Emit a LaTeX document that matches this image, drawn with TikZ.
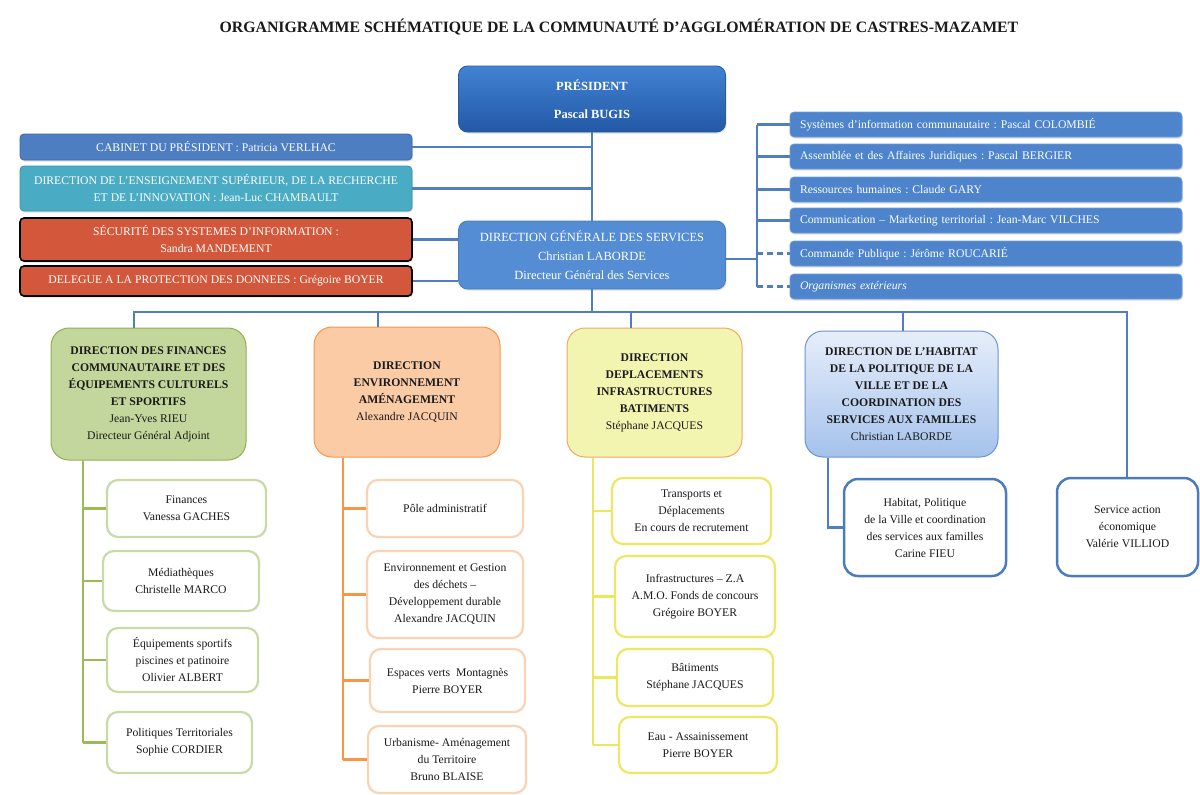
\documentclass[tikz,border=0pt]{standalone}
\usepackage{fontspec}
\setmainfont{Liberation Serif}
\usetikzlibrary{shadows}
\frenchspacing
\definecolor{presT}{HTML}{4282D2}
\definecolor{presB}{HTML}{2259A6}
\definecolor{presD}{HTML}{2A5C9E}
\definecolor{cabF}{HTML}{4D7EC1}
\definecolor{cabD}{HTML}{3E6AA6}
\definecolor{ensF}{HTML}{4AABC5}
\definecolor{ensD}{HTML}{3A95AE}
\definecolor{redF}{HTML}{D3573A}
\definecolor{dgsF}{HTML}{548DD4}
\definecolor{dgsD}{HTML}{4A7DBE}
\definecolor{rF}{HTML}{4D84CC}
\definecolor{rD}{HTML}{6F9CD8}
\definecolor{gF}{HTML}{C3D69B}
\definecolor{gD}{HTML}{8EB04F}
\definecolor{oF}{HTML}{FBCBA6}
\definecolor{oD}{HTML}{F7964A}
\definecolor{yF}{HTML}{F2F5B0}
\definecolor{yD}{HTML}{F2A85F}
\definecolor{hT}{HTML}{E6EEFA}
\definecolor{hB}{HTML}{A5C2EC}
\definecolor{hD}{HTML}{6A95D3}
\definecolor{gC}{HTML}{C8DBA6}
\definecolor{oC}{HTML}{FAD3B3}
\definecolor{yC}{HTML}{EEE766}
\definecolor{bC}{HTML}{4C7BBD}
\definecolor{gL}{HTML}{9BBB59}
\definecolor{oL}{HTML}{F79646}
\definecolor{yL}{HTML}{ECE65E}
\definecolor{bL}{HTML}{4F7FBE}
\definecolor{txt}{HTML}{1A1A1A}
\tikzset{
  sz/.style 2 args={minimum width=#1pt, minimum height=#2pt},
  base/.style={align=center, inner sep=0pt, text=txt, font=\fontsize{11.7}{17}\selectfont},
  topbox/.style={base, rounded corners=4pt, text=white, line width=0.8pt,
     drop shadow={opacity=0.25, shadow xshift=1pt, shadow yshift=-1.5pt}},
  redbox/.style={topbox, fill=redF, draw=black, line width=1.6pt},
  rbox/.style={topbox, fill=rF, draw=rD, align=left, inner xsep=10pt, text width=372pt, minimum height=25pt},
  lbox/.style={base, rounded corners=18pt, line width=1pt},
  cbox/.style={base, rounded corners=11pt, line width=2.2pt, fill=white},
  bline/.style={draw=bL, line width=2.5pt},
  gline/.style={draw=gL, line width=2.6pt},
  oline/.style={draw=oL, line width=2.6pt},
  yline/.style={draw=yL, line width=2.6pt},
}
\begin{document}
\begin{tikzpicture}[x=1pt,y=-1pt]
\useasboundingbox (0,0) rectangle (1200,795);
\fill[white] (0,0) rectangle (1200,795);

% title
\node[base, font=\bfseries\fontsize{15.8}{18}\selectfont] (title) at (619,27)
  {ORGANIGRAMME SCHÉMATIQUE DE LA COMMUNAUTÉ D’AGGLOMÉRATION DE CASTRES-MAZAMET};

% president and DGS
\node[topbox, sz={267}{66}, rounded corners=9pt, top color=presT, bottom color=presB, draw=presD,
      font=\bfseries\fontsize{12.5}{17}\selectfont] (pres) at (592,99)
  {PRÉSIDENT\\[11pt]Pascal BUGIS};
\node[topbox, sz={267}{68}, rounded corners=9pt, fill=dgsF, draw=dgsD,
      font=\fontsize{12.5}{19}\selectfont] (dgs) at (592,255)
  {DIRECTION GÉNÉRALE DES SERVICES\\Christian LABORDE\\Directeur Général des Services};

% left boxes
\node[topbox, sz={392}{26}, fill=cabF, draw=cabD] (cab) at (216,147)
  {CABINET DU PRÉSIDENT : Patricia VERLHAC};
\node[topbox, sz={392}{45}, fill=ensF, draw=ensD] (ens) at (216,188.5)
  {DIRECTION DE L’ENSEIGNEMENT SUPÉRIEUR, DE LA RECHERCHE\\ET DE L’INNOVATION : Jean-Luc CHAMBAULT};
\node[redbox, sz={392}{43}] (secu) at (216,239.5)
  {SÉCURITÉ DES SYSTEMES D’INFORMATION :\\Sandra MANDEMENT};
\node[redbox, sz={392}{30}] (dpo) at (216,281)
  {DELEGUE A LA PROTECTION DES DONNEES : Grégoire BOYER};

% right boxes
\node[rbox] (r1) at (986,124.5) {Systèmes d’information communautaire : Pascal COLOMBIÉ};
\node[rbox] (r2) at (986,156.5) {Assemblée et des Affaires Juridiques : Pascal BERGIER};
\node[rbox] (r3) at (986,189.5) {Ressources humaines : Claude GARY};
\node[rbox] (r4) at (986,220.5) {Communication – Marketing territorial : Jean-Marc VILCHES};
\node[rbox] (r5) at (986,253.5) {Commande Publique : Jérôme ROUCARIÉ};
\node[rbox] (r6) at (986,286.5) {\textit{Organismes extérieurs}};

% level 2 boxes
\node[lbox, sz={195}{132}, fill=gF, draw=gD] (fin) at (148.5,394)
  {\textbf{DIRECTION DES FINANCES}\\\textbf{COMMUNAUTAIRE ET DES}\\\textbf{ÉQUIPEMENTS CULTURELS}\\\textbf{ET SPORTIFS}\\Jean-Yves RIEU\\Directeur Général Adjoint};
\node[lbox, sz={186}{130}, fill=oF, draw=oD] (env) at (407,392)
  {\textbf{DIRECTION}\\\textbf{ENVIRONNEMENT}\\\textbf{AMÉNAGEMENT}\\Alexandre JACQUIN};
\node[lbox, sz={175}{129}, fill=yF, draw=yD] (dep) at (654.5,392.5)
  {\textbf{DIRECTION}\\\textbf{DEPLACEMENTS}\\\textbf{INFRASTRUCTURES}\\\textbf{BATIMENTS}\\Stéphane JACQUES};
\node[lbox, sz={193}{126}, top color=hT, bottom color=hB, draw=hD] (hab) at (901.5,394)
  {\textbf{DIRECTION DE L’HABITAT}\\\textbf{DE LA POLITIQUE DE LA}\\\textbf{VILLE ET DE LA}\\\textbf{COORDINATION DES}\\\textbf{SERVICES AUX FAMILLES}\\Christian LABORDE};
\node[cbox, sz={141}{98}, draw=bC, line width=2.5pt, rounded corners=14pt] (serv) at (1127.5,527)
  {Service action\\économique\\Valérie VILLIOD};
\node[cbox, sz={162}{97}, draw=bC, line width=2.5pt, rounded corners=14pt] (habc) at (925,527.5)
  {Habitat, Politique\\de la Ville et coordination\\des services aux familles\\Carine FIEU};

% green children
\node[cbox, sz={159}{57}, draw=gC] (g1) at (186.5,508.5) {Finances\\Vanessa GACHES};
\node[cbox, sz={156}{60}, draw=gC] (g2) at (181,581) {Médiathèques\\Christelle MARCO};
\node[cbox, sz={151}{64}, draw=gC] (g3) at (182.5,660) {Équipements sportifs\\piscines et patinoire\\Olivier ALBERT};
\node[cbox, sz={145}{61}, draw=gC] (g4) at (179.5,742.5) {Politiques Territoriales\\Sophie CORDIER};

% orange children
\node[cbox, sz={156}{57}, draw=oC] (o1) at (445,508.5) {Pôle administratif};
\node[cbox, sz={156}{87}, draw=oC] (o2) at (445,594.5) {Environnement et Gestion\\des déchets –\\Développement durable\\Alexandre JACQUIN};
\node[cbox, sz={155}{63}, draw=oC] (o3) at (447.5,680.5) {Espaces verts~ Montagnès\\Pierre BOYER};
\node[cbox, sz={158}{67}, draw=oC] (o4) at (447,759.5) {Urbanisme- Aménagement\\du Territoire\\Bruno BLAISE};

% yellow children
\node[cbox, sz={159}{66}, draw=yC] (y1) at (691.5,511) {Transports et\\Déplacements\\En cours de recrutement};
\node[cbox, sz={160}{81}, draw=yC] (y2) at (695,596.5) {Infrastructures – Z.A\\A.M.O. Fonds de concours\\Grégoire BOYER};
\node[cbox, sz={156}{57}, draw=yC] (y3) at (695,677.5) {Bâtiments\\Stéphane JACQUES};
\node[cbox, sz={158}{56}, draw=yC] (y4) at (698,745) {Eau - Assainissement\\Pierre BOYER};

% ---- connectors ----
\coordinate (mv) at (592,0);
\draw[bline] (pres.south) -- (dgs.north);
\draw[bline] (cab.east) -- (cab.east -| mv);
\draw[bline] (ens.east) -- (ens.east -| mv);
\draw[bline] (secu.east) -- (secu.east -| dgs.west);
\draw[bline] (dpo.east) -- (dpo.east -| dgs.west);

% right tree
\coordinate (rv) at (757,0);
\coordinate (rc) at (757,259);
\draw[bline] (dgs.east |- rc) -- (rc);
\draw[bline] (rv |- r1.west) -- (rv |- r6.west);
\draw[bline] (rv |- r1.west) -- (r1.west);
\draw[bline] (rv |- r2.west) -- (r2.west);
\draw[bline] (rv |- r3.west) -- (r3.west);
\draw[bline] (rv |- r4.west) -- (r4.west);
\draw[bline, dash pattern=on 6pt off 4pt] (rv |- r5.west) -- (r5.west);
\draw[bline, dash pattern=on 6pt off 4pt] (rv |- r6.west) -- (r6.west);

% bus
\coordinate (busL) at (134,312);
\coordinate (busR) at (1127,312);
\coordinate (d2) at (378,312);
\coordinate (d3) at (631,312);
\coordinate (d4) at (903,312);
\draw[bline] (dgs.south) -- (dgs.south |- busL);
\draw[bline] (busL |- fin.north) -- (busL) -- (busR) -- (busR |- serv.north);
\draw[bline] (d2) -- (d2 |- env.north);
\draw[bline] (d3) -- (d3 |- dep.north);
\draw[bline] (d4) -- (d4 |- hab.north);

% habitat child
\coordinate (hv) at (828,0);
\draw[bline] (hv |- hab.south) -- (hv |- habc.west) -- (habc.west);

% green tree
\coordinate (gv) at (83,0);
\draw[gline] (gv |- fin.south) -- (gv |- g4.west);
\foreach \n in {g1,g2,g3,g4} \draw[gline] (gv |- \n.west) -- (\n.west);
% orange tree
\coordinate (ov) at (343,0);
\draw[oline] (ov |- env.south) -- (ov |- o4.west);
\foreach \n in {o1,o2,o3,o4} \draw[oline] (ov |- \n.west) -- (\n.west);
% yellow tree
\coordinate (yv) at (593,0);
\draw[yline] (yv |- dep.south) -- (yv |- y4.west);
\foreach \n in {y1,y2,y3,y4} \draw[yline] (yv |- \n.west) -- (\n.west);
\end{tikzpicture}
\end{document}
